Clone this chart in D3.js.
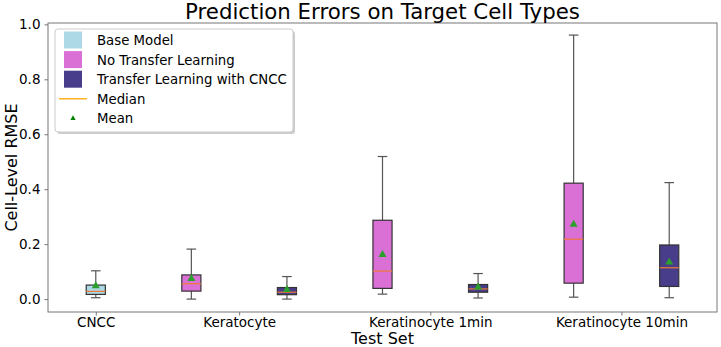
<!DOCTYPE html>
<html>
<head>
<meta charset="utf-8">
<script src="https://cdn.jsdelivr.net/npm/d3@7"></script>
<style>
  body { margin: 0; background: #fff; }
  text { font-family: "DejaVu Sans", sans-serif; fill: #000; }
</style>
</head>
<body>
<script>
// data
const tickLabels = ["CNCC", "Keratocyte", "Keratinocyte 1min", "Keratinocyte 10min"];
const tickPositions = [1, 2.5, 4.5, 6.5];
const seriesNames = ["Base Model", "No Transfer Learning", "Transfer Learning with CNCC"];
const boxPositions = [1, 2, 3, 4, 5, 6, 7];
const boxSeries = [0, 1, 2, 1, 2, 1, 2];
const whiskerLow = [0.005, 0.000, 0.000, 0.018, 0.004, 0.007, 0.005];
const q1 = [0.017, 0.029, 0.016, 0.039, 0.025, 0.058, 0.046];
const median = [0.028, 0.056, 0.025, 0.102, 0.037, 0.218, 0.114];
const q3 = [0.051, 0.088, 0.042, 0.287, 0.053, 0.422, 0.197];
const whiskerHigh = [0.103, 0.182, 0.082, 0.519, 0.093, 0.961, 0.424];
const means = [0.048, 0.074, 0.034, 0.162, 0.043, 0.272, 0.134];
const yTicks = [0.0, 0.2, 0.4, 0.6, 0.8, 1.0];

const colors = ["#add8e6", "#da70d6", "#483d8b"];

const width = 721, height = 347;
const margin = {left: 48, right: 4, top: 23, bottom: 35};

const svg = d3.select("body").append("svg")
    .attr("width", width)
    .attr("height", height);

const x = d3.scaleLinear()
    .domain([0.5, 7.5])
    .range([margin.left, width - margin.right]);

const y = d3.scaleLinear()
    .domain([-0.047, 1.005])
    .range([height - margin.bottom, margin.top]);

const boxW = x(1.2) - x(1);
const capW = x(1.1) - x(1);

// frame
svg.append("rect")
    .attr("x", x(0.5)).attr("y", y(1.005))
    .attr("width", x(7.5) - x(0.5))
    .attr("height", y(-0.047) - y(1.005))
    .attr("fill", "none")
    .attr("stroke", "#777")
    .attr("stroke-width", 1);

// axes
const yAxis = svg.append("g")
    .attr("transform", `translate(${x(0.5)},0)`)
    .call(d3.axisLeft(y).tickValues(yTicks).tickFormat(d3.format(".1f")).tickSize(3.5).tickPadding(4));
yAxis.select(".domain").remove();
yAxis.selectAll("line").attr("stroke", "#777");
yAxis.selectAll("text").style("font-size", "13.5px").style("font-family", "DejaVu Sans");

const xAxis = svg.append("g")
    .attr("transform", `translate(0,${y(-0.047)})`)
    .call(d3.axisBottom(x).tickValues(tickPositions).tickFormat((d, i) => tickLabels[i]).tickSize(3.5).tickPadding(2));
xAxis.select(".domain").remove();
xAxis.selectAll("line").attr("stroke", "#777");
xAxis.selectAll("text").style("font-size", "13.5px").style("font-family", "DejaVu Sans");

// boxes
const boxes = svg.append("g").selectAll("g")
    .data(boxPositions)
    .enter().append("g");

boxes.append("line")
    .attr("x1", d => x(d)).attr("x2", d => x(d))
    .attr("y1", (d, i) => y(q3[i])).attr("y2", (d, i) => y(whiskerHigh[i]))
    .attr("stroke", "#555").attr("stroke-width", 1.2);
boxes.append("line")
    .attr("x1", d => x(d)).attr("x2", d => x(d))
    .attr("y1", (d, i) => y(q1[i])).attr("y2", (d, i) => y(whiskerLow[i]))
    .attr("stroke", "#555").attr("stroke-width", 1.2);
boxes.append("line")
    .attr("x1", d => x(d) - capW / 2).attr("x2", d => x(d) + capW / 2)
    .attr("y1", (d, i) => y(whiskerHigh[i])).attr("y2", (d, i) => y(whiskerHigh[i]))
    .attr("stroke", "#555").attr("stroke-width", 1.2);
boxes.append("line")
    .attr("x1", d => x(d) - capW / 2).attr("x2", d => x(d) + capW / 2)
    .attr("y1", (d, i) => y(whiskerLow[i])).attr("y2", (d, i) => y(whiskerLow[i]))
    .attr("stroke", "#555").attr("stroke-width", 1.2);
boxes.append("rect")
    .attr("x", d => x(d) - boxW / 2)
    .attr("y", (d, i) => y(q3[i]))
    .attr("width", boxW)
    .attr("height", (d, i) => y(q1[i]) - y(q3[i]))
    .attr("fill", (d, i) => colors[boxSeries[i]])
    .attr("stroke", "#333").attr("stroke-width", 1.2);
boxes.append("line")
    .attr("x1", d => x(d) - boxW / 2).attr("x2", d => x(d) + boxW / 2)
    .attr("y1", (d, i) => y(median[i])).attr("y2", (d, i) => y(median[i]))
    .attr("stroke", "#f07a35").attr("stroke-width", 1.2);

const tri = d3.symbol().type(d3.symbolTriangle).size(28);
boxes.append("path")
    .attr("d", tri)
    .attr("transform", (d, i) => `translate(${x(d)},${y(means[i])})`)
    .attr("fill", "#2ca02c");

// legend
const lg = svg.append("g").attr("transform", "translate(55,29)");
lg.append("rect")
    .attr("x", 2).attr("y", 2).attr("width", 238).attr("height", 103).attr("rx", 3)
    .attr("fill", "#aaa").attr("opacity", 0.6);
lg.append("rect")
    .attr("x", 0).attr("y", 0).attr("width", 238).attr("height", 103).attr("rx", 3)
    .attr("fill", "#fff").attr("stroke", "#ccc");

const rowY = d => 11 + d * 19.6;
seriesNames.forEach((name, i) => {
    lg.append("rect")
        .attr("x", 9).attr("y", rowY(i) - 8.5).attr("width", 18).attr("height", 17)
        .attr("fill", colors[i]);
    lg.append("text").attr("x", 42).attr("y", rowY(i) + 5)
        .style("font-size", "13.3px").text(name);
});
lg.append("line")
    .attr("x1", 4).attr("x2", 32).attr("y1", rowY(3)).attr("y2", rowY(3))
    .attr("stroke", "orange").attr("stroke-width", 1.3);
lg.append("text").attr("x", 42).attr("y", rowY(3) + 5).style("font-size", "13.3px").text("Median");
lg.append("path")
    .attr("d", d3.symbol().type(d3.symbolTriangle).size(12))
    .attr("transform", `translate(18,${rowY(4)})`)
    .attr("fill", "green");
lg.append("text").attr("x", 42).attr("y", rowY(4) + 5).style("font-size", "13.3px").text("Mean");

// titles
svg.append("text")
    .attr("x", (x(0.5) + x(7.5)) / 2).attr("y", 18.5)
    .attr("text-anchor", "middle")
    .style("font-size", "21.3px")
    .text("Prediction Errors on Target Cell Types");

svg.append("text")
    .attr("x", (x(0.5) + x(7.5)) / 2).attr("y", 344)
    .attr("text-anchor", "middle")
    .style("font-size", "16px")
    .text("Test Set");

svg.append("text")
    .attr("transform", `translate(17,${(y(-0.047) + y(1.005)) / 2}) rotate(-90)`)
    .attr("text-anchor", "middle")
    .style("font-size", "16px")
    .text("Cell-Level RMSE");
</script>
</body>
</html>
